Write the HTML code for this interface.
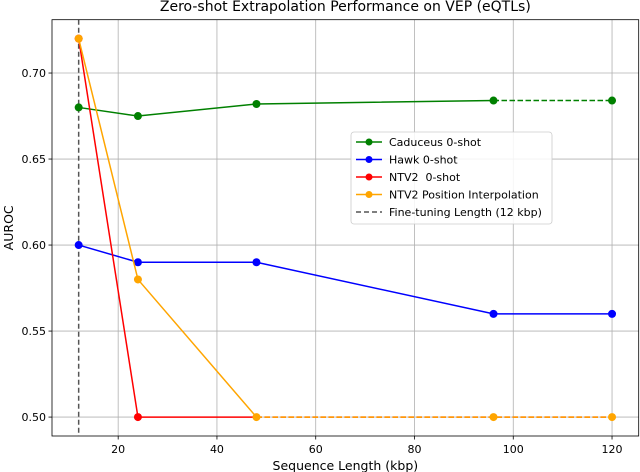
<!DOCTYPE html>
<html><head><meta charset="utf-8"><style>
body{margin:0;background:#fff;}
svg{display:block;font-family:"DejaVu Sans","Liberation Sans",sans-serif;}
</style></head><body>
<svg id="chart" width="640" height="472"></svg>
<script>
const xTicks=[20,40,60,80,100,120];
const yTicks=[0.50,0.55,0.60,0.65,0.70];
const xs=[12,24,48,96,120];
const caduceus=[0.68,0.675,0.682,0.684,0.684];
const hawk=[0.60,0.59,0.59,0.56,0.56];
const ntv2=[0.72,0.50,0.50,0.50,0.50];
const ntv2Interp=[0.72,0.58,0.50,0.50,0.50];
const fineTune=12;
const NS='http://www.w3.org/2000/svg';
const svg=document.getElementById('chart');
const L=52,R=638.7,T=19.7,B=436;
const xmin=6.6,xmax=125.4,ymin=0.489,ymax=0.731;
const X=v=>L+(v-xmin)/(xmax-xmin)*(R-L);
const Y=v=>B-(v-ymin)/(ymax-ymin)*(B-T);
function el(t,a,p){const e=document.createElementNS(NS,t);for(const k in a)e.setAttribute(k,a[k]);(p||svg).appendChild(e);return e;}
xTicks.forEach(t=>{const g=el('line',{x1:X(t),x2:X(t),y1:T,y2:B,stroke:'#b0b0b0','stroke-width':0.8});


const tk=el('line',{x1:X(t),x2:X(t),y1:B,y2:B+3.5,stroke:'#000','stroke-width':0.8});


const tx=el('text',{x:X(t),y:B+17,'font-size':11,'text-anchor':'middle',fill:'#000'});tx.textContent=t;

});
yTicks.forEach(t=>{const g=el('line',{x1:L,x2:R,y1:Y(t),y2:Y(t),stroke:'#b0b0b0','stroke-width':0.8});


const tk=el('line',{x1:L-3.5,x2:L,y1:Y(t),y2:Y(t),stroke:'#000','stroke-width':0.8});


const tx=el('text',{x:L-6,y:Y(t)+4,'font-size':11,'text-anchor':'end',fill:'#000'});tx.textContent=t.toFixed(2);

});
const fl=el('line',{x1:X(fineTune),x2:X(fineTune),y1:T,y2:B,stroke:'#555','stroke-width':1.5,'stroke-dasharray':'5,3'});


function series(vals,color,name,solidEnd,markers){
 const pts=vals.map((v,i)=>[X(xs[i]),Y(v)]);
 const s=el('polyline',{points:pts.slice(0,solidEnd+1).map(p=>p.join(',')).join(' '),fill:'none',stroke:color,'stroke-width':1.5});
 
 
 if(solidEnd<vals.length-1){const d=el('polyline',{points:pts.slice(solidEnd).map(p=>p.join(',')).join(' '),fill:'none',stroke:color,'stroke-width':1.5,'stroke-dasharray':'5.5,2.5'});
 
 }
 markers.forEach(i=>{const c=el('circle',{cx:pts[i][0],cy:pts[i][1],r:4,fill:color});
 
 });
}
series(caduceus,'#008000','caduceus',3,[0,1,2,3,4]);
series(hawk,'#0000ff','hawk',4,[0,1,2,3,4]);
series(ntv2,'#ff0000','ntv2',2,[0,1]);
series(ntv2Interp,'#ffa500','ntv2-interp',2,[0,1,2,3,4]);
const fr=el('rect',{x:L,y:T,width:R-L,height:B-T,fill:'none',stroke:'#000','stroke-width':0.8});


const ti=el('text',{x:(L+R)/2,y:11,'font-size':14,'text-anchor':'middle'});ti.textContent='Zero-shot Extrapolation Performance on VEP (eQTLs)';


const xl=el('text',{x:(L+R)/2,y:470,'font-size':12.5,'text-anchor':'middle'});xl.textContent='Sequence Length (kbp)';


const yl=el('text',{x:0,y:0,'font-size':12.5,'text-anchor':'middle',transform:`translate(13,${(T+B)/2}) rotate(-90)`});yl.textContent='AUROC';


const lg=el('g',{});


el('rect',{x:351,y:132,width:201,height:92,rx:3,fill:'#fff','fill-opacity':0.85,stroke:'#ccc','stroke-width':0.8},lg);
const items=[['Caduceus 0-shot','#008000',false],['Hawk 0-shot','#0000ff',false],['NTV2  0-shot','#ff0000',false],['NTV2 Position Interpolation','#ffa500',false],['Fine-tuning Length (12 kbp)','#555',true]];
items.forEach((it,i)=>{const y=142+i*17.5;
 const g=el('g',{},lg);
 
 
 el('line',{x1:356,x2:382,y1:y,y2:y,stroke:it[1],'stroke-width':1.5,'stroke-dasharray':it[2]?'5,3':'none'},g);
 if(!it[2])el('circle',{cx:369,cy:y,r:3.5,fill:it[1]},g);
 const t=el('text',{x:389,y:y+4,'font-size':11},g);t.textContent=it[0];t.style.whiteSpace='pre';
});
</script>
</body></html>
